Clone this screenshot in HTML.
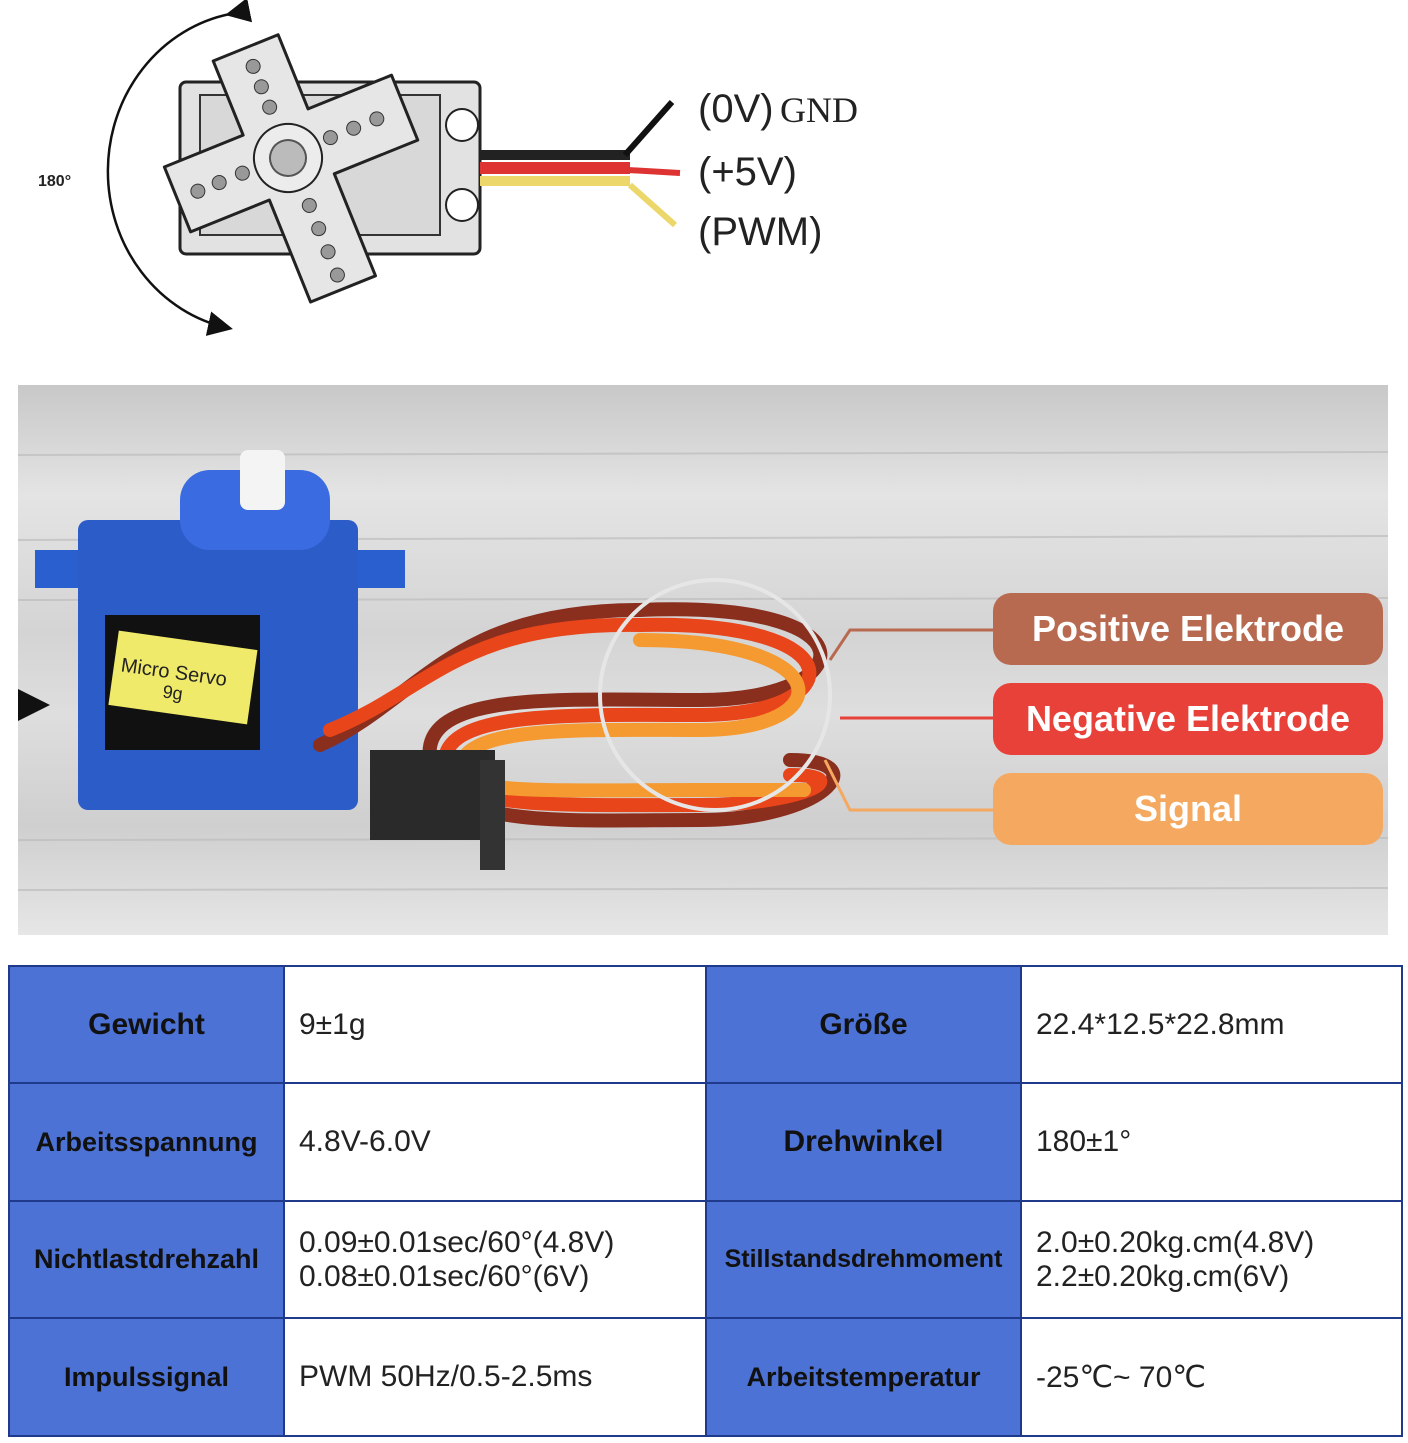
<!DOCTYPE html>
<html><head><meta charset="utf-8"><style>
body{margin:0;width:1408px;height:1443px;background:#fff;position:relative;overflow:hidden;font-family:"Liberation Sans",sans-serif}
.abs{position:absolute}
table{position:absolute;left:8px;top:965px;width:1395px;height:470px;border-collapse:collapse}
td{border:2px solid #1f3a8a;font-size:30px;color:#222;padding:0 14px}
td.b{background:#4d72d6;color:#111;font-weight:bold;text-align:center;font-size:27px;padding:0}
.pill{position:absolute;left:993px;width:390px;height:72px;border-radius:18px;color:#fff;font-weight:bold;font-size:36px;text-align:center;line-height:72px}
</style></head><body>
<svg class="abs" style="left:0;top:0" width="1408" height="940">
<defs>
<linearGradient id="bg" x1="0" y1="0" x2="0" y2="1">
<stop offset="0" stop-color="#c8c8c8"/><stop offset="0.2" stop-color="#e4e4e4"/><stop offset="0.45" stop-color="#d4d4d4"/><stop offset="0.6" stop-color="#dedede"/><stop offset="0.8" stop-color="#cfcfcf"/><stop offset="1" stop-color="#e6e6e6"/></linearGradient>
<marker id="ar" markerWidth="10" markerHeight="10" refX="8" refY="5" orient="auto"><path d="M0,0L10,5L0,10z" fill="#111"/></marker>
</defs>
<!-- top diagram -->
<path d="M230,14 A150,160 0 0 0 228,328" fill="none" stroke="#111" stroke-width="2.5" marker-start="url(#ar)" marker-end="url(#ar)"/>
<path d="M228,328 A150,160 0 0 1 90,170" fill="none" stroke="none"/>
<text x="38" y="186" font-size="16" font-weight="bold" fill="#222">180°</text>
<rect x="180" y="82" width="300" height="172" rx="6" fill="#e2e2e2" stroke="#222" stroke-width="3"/>
<rect x="200" y="95" width="240" height="140" fill="#d8d8d8" stroke="#333" stroke-width="2"/>
<circle cx="462" cy="125" r="16" fill="#fff" stroke="#222" stroke-width="2"/>
<circle cx="462" cy="205" r="16" fill="#fff" stroke="#222" stroke-width="2"/>
<circle cx="202" cy="200" r="16" fill="#fff" stroke="#222" stroke-width="2"/>
<g transform="rotate(-22 288 158)">
<path d="M255,40 h70 v80 h90 v70 h-90 v110 h-70 v-110 h-85 v-70 h85z" fill="#e6e6e6" stroke="#222" stroke-width="3" stroke-linejoin="round"/>
<circle cx="288" cy="158" r="34" fill="#ececec" stroke="#222" stroke-width="2"/>
<circle cx="288" cy="158" r="18" fill="#bbb" stroke="#555" stroke-width="2"/>
<g fill="#999" stroke="#333"><circle cx="290" cy="60" r="7"/><circle cx="290" cy="82" r="7"/><circle cx="290" cy="104" r="7"/><circle cx="335" cy="155" r="7"/><circle cx="360" cy="155" r="7"/><circle cx="385" cy="155" r="7"/><circle cx="290" cy="210" r="7"/><circle cx="290" cy="235" r="7"/><circle cx="290" cy="260" r="7"/><circle cx="290" cy="285" r="7"/><circle cx="240" cy="155" r="7"/><circle cx="215" cy="155" r="7"/><circle cx="192" cy="155" r="7"/></g>
</g>
<rect x="480" y="150" width="150" height="10" fill="#222"/>
<rect x="480" y="162" width="150" height="12" fill="#d33"/>
<rect x="480" y="176" width="150" height="10" fill="#ecd76a"/>
<path d="M625,155 L672,102" stroke="#111" stroke-width="6"/>
<path d="M628,170 L680,173" stroke="#d33" stroke-width="6"/>
<path d="M630,185 L675,225" stroke="#ecd76a" stroke-width="6"/>
<text x="698" y="122" font-size="40" fill="#222" font-family="Liberation Sans">(0V)</text>
<text x="780" y="122" font-size="36" fill="#222" font-family="Liberation Serif">GND</text>
<text x="698" y="185" font-size="40" fill="#222">(+5V)</text>
<text x="698" y="245" font-size="40" fill="#222">(PWM)</text>
<!-- photo -->
<rect x="18" y="385" width="1370" height="550" fill="url(#bg)"/>
<g stroke="#bdbdbd" stroke-width="2" opacity="0.7"><line x1="18" y1="455" x2="1388" y2="452"/><line x1="18" y1="540" x2="1388" y2="536"/><line x1="18" y1="600" x2="1388" y2="598"/><line x1="18" y1="840" x2="1388" y2="838"/><line x1="18" y1="890" x2="1388" y2="888"/></g>
<path d="M18,705 l32,0 l-32,-16z M18,705 l32,0 l-32,16z" fill="#111"/>
<!-- servo -->
<rect x="35" y="550" width="370" height="38" fill="#2a5fd0"/>
<rect x="78" y="520" width="280" height="290" rx="10" fill="#2c5cc8"/>
<rect x="180" y="470" width="150" height="80" rx="30" fill="#3a6be0"/>
<rect x="240" y="450" width="45" height="60" rx="8" fill="#f4f4f4"/>
<rect x="105" y="615" width="155" height="135" fill="#111"/>
<rect x="113" y="640" width="140" height="75" fill="#f0ea6a" transform="rotate(8 183 677)"/>
<text x="120" y="680" font-size="20" fill="#222" transform="rotate(8 183 677)">Micro Servo</text>
<text x="165" y="700" font-size="18" fill="#222" transform="rotate(8 183 677)">9g</text>
<!-- wires -->
<g fill="none" stroke-width="14" stroke-linecap="round">
<path d="M320,745 C420,700 450,610 640,610" stroke="#8a2e1e"/>
<path d="M330,730 C430,690 460,622 640,625" stroke="#e8451a"/>
<path d="M640,610 C880,600 860,700 700,700 C560,700 420,690 430,760 C440,830 560,820 700,820 C820,820 880,760 790,760" stroke="#8a2e1e"/>
<path d="M640,625 C860,620 850,715 700,715 C570,715 440,710 445,765 C450,810 560,805 700,805 C800,805 860,775 790,775" stroke="#e8451a"/>
<path d="M640,640 C840,640 840,730 700,730 C580,730 460,725 460,770 C460,795 560,790 700,790 C780,790 830,790 790,790" stroke="#f59a30"/>
</g>
<rect x="370" y="750" width="125" height="90" fill="#2a2a2a"/>
<rect x="480" y="760" width="25" height="110" fill="#333"/>
<circle cx="715" cy="695" r="115" fill="none" stroke="#e6e6e6" stroke-width="4"/>
<polyline points="830,660 850,630 993,630" fill="none" stroke="#b86a50" stroke-width="3"/>
<line x1="840" y1="718" x2="993" y2="718" stroke="#e8413a" stroke-width="3"/>
<polyline points="825,760 850,810 993,810" fill="none" stroke="#f4a860" stroke-width="3"/>
</svg>
<div class="pill" style="top:593px;background:#b86a50">Positive Elektrode</div>
<div class="pill" style="top:683px;background:#e8413a">Negative Elektrode</div>
<div class="pill" style="top:773px;background:#f4a860">Signal</div>
<table>
<colgroup><col style="width:275px"><col style="width:422px"><col style="width:315px"><col></colgroup>
<tr style="height:117px"><td class="b" style="font-size:30px">Gewicht</td><td>9±1g</td><td class="b" style="font-size:30px">Größe</td><td>22.4*12.5*22.8mm</td></tr>
<tr style="height:118px"><td class="b">Arbeitsspannung</td><td>4.8V-6.0V</td><td class="b" style="font-size:30px">Drehwinkel</td><td>180±1°</td></tr>
<tr style="height:117px"><td class="b">Nichtlastdrehzahl</td><td>0.09±0.01sec/60°(4.8V)<br>0.08±0.01sec/60°(6V)</td><td class="b" style="font-size:25px">Stillstandsdrehmoment</td><td>2.0±0.20kg.cm(4.8V)<br>2.2±0.20kg.cm(6V)</td></tr>
<tr style="height:118px"><td class="b">Impulssignal</td><td>PWM 50Hz/0.5-2.5ms</td><td class="b">Arbeitstemperatur</td><td>-25℃~ 70℃</td></tr>
</table>
</body></html>
